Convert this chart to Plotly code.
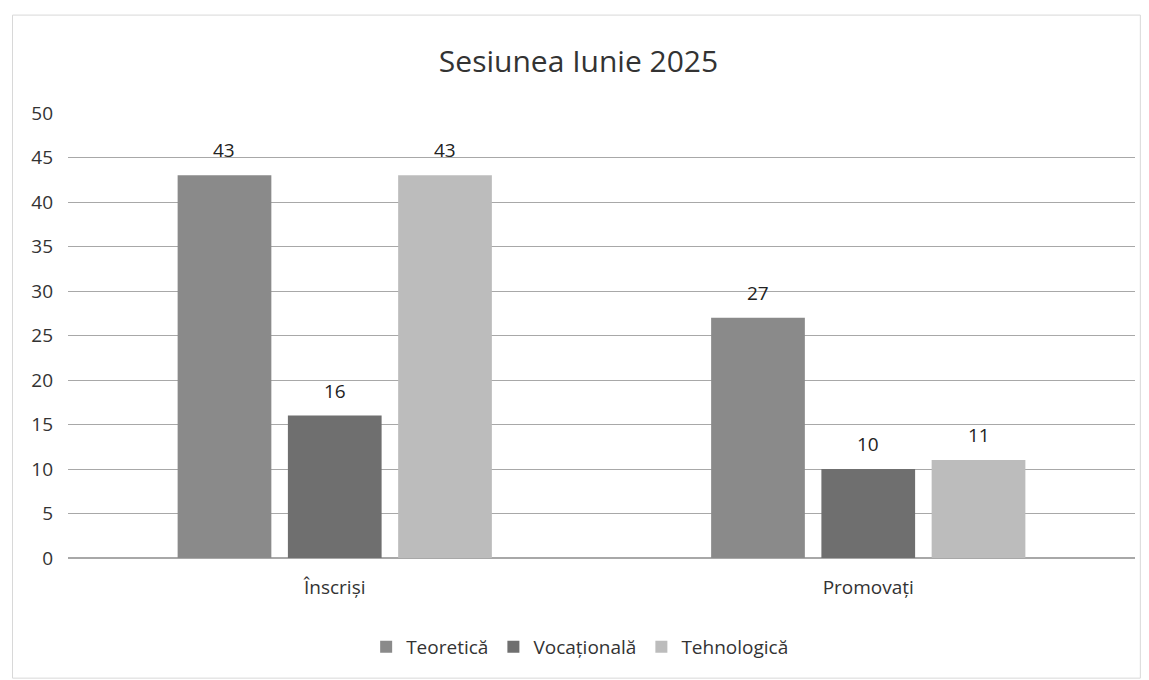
import plotly.graph_objects as go

categories = ["Înscriși", "Promovați"]
teoretica = [43, 27]
vocationala = [16, 10]
tehnologica = [43, 11]

series = [
    ("Teoretică", teoretica, "#8a8a8a"),
    ("Vocațională", vocationala, "#6f6f6f"),
    ("Tehnologică", tehnologica, "#bcbcbc"),
]

W, H = 1141, 672  # page body has an 8px margin
ML, MR = 60, 14
BARGAP = 0.38

fig = go.Figure()
for name, vals, clr in series:
    fig.add_trace(go.Bar(x=categories, y=vals, name=name,
                         marker=dict(color=clr, line=dict(width=0))))

# value labels a bit higher above the bars than plotly's outside text
slot = (W - ML - MR) / len(categories) * (1 - BARGAP) / len(series)
for i, (name, vals, clr) in enumerate(series):
    for cat, v in zip(categories, vals):
        fig.add_annotation(x=cat, y=v, text=str(v), showarrow=False,
                           xshift=(i - 1) * slot, yshift=10, yanchor="bottom",
                           font=dict(size=19, color="#222222"))

fig.update_layout(
    width=W, height=H,
    paper_bgcolor="white", plot_bgcolor="white",
    font=dict(family="Open Sans, Noto Sans, sans-serif", color="#333333"),
    title=dict(text="Sesiunea Iunie 2025", x=0.5, xanchor="center",
               y=0.92, yanchor="middle", font=dict(size=30, color="#333333")),
    margin=dict(l=ML, r=MR, t=105, b=122),
    barmode="group", bargap=BARGAP, bargroupgap=0.15,
    showlegend=True,
    legend=dict(orientation="h", x=0.48, xanchor="center", y=-0.2, yanchor="middle",
                font=dict(size=19, color="#333333"), itemwidth=30,
                traceorder="normal"),
)
fig.update_yaxes(range=[0, 50], dtick=5, showgrid=True, gridcolor="#a8a8a8", gridwidth=1,
                 zeroline=True, zerolinecolor="#a8a8a8", showline=False,
                 tickfont=dict(size=19, color="#333333"), ticks="", ticklabelstandoff=14)
fig.update_xaxes(showline=False, tickfont=dict(size=19, color="#333333"), ticks="",
                 ticklabelstandoff=16)

# faint frame around the chart area
fig.add_shape(type="rect", xref="paper", yref="paper",
              x0=-0.052, x1=1.005, y0=-0.27, y1=1.22,
              line=dict(color="#d8d8d8", width=1))

fig.write_html("out.html")
